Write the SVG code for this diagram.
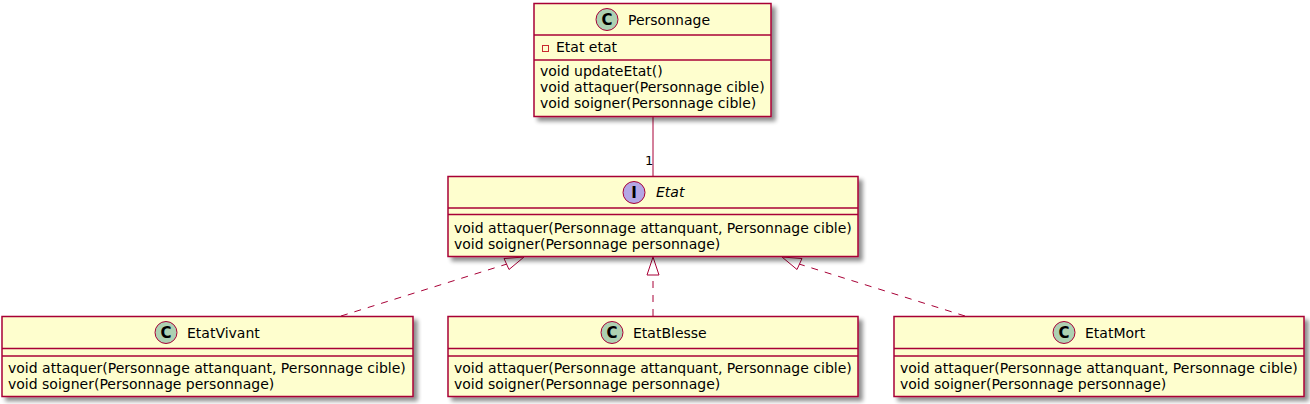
<svg xmlns="http://www.w3.org/2000/svg" width="1310" height="404" viewBox="0 0 1310 404">
<defs>
<filter id="sh" x="-10%" y="-10%" width="130%" height="140%">
<feGaussianBlur in="SourceAlpha" stdDeviation="2"/>
<feOffset dx="4" dy="4" result="b"/>
<feComponentTransfer><feFuncA type="linear" slope="0.45"/></feComponentTransfer>
<feMerge><feMergeNode/><feMergeNode in="SourceGraphic"/></feMerge>
</filter>
</defs>
<style>
text{font-family:"DejaVu Sans","Liberation Sans",sans-serif;fill:#000}
.box{fill:#FEFECE;stroke:#A80036;stroke-width:1.5}
.sep{stroke:#A80036;stroke-width:1.5}
.name{font-size:14px}
.mem{font-size:14px}
.cc{fill:#ADD1B2;stroke:#A80036;stroke-width:1}
.ci{fill:#B4A7E5;stroke:#A80036;stroke-width:1}
.glyph{font-size:15px;font-weight:bold;text-anchor:middle}
.ln{fill:none;stroke:#A80036;stroke-width:1}
.dash{stroke-dasharray:7,7}
.tri{fill:#FFFFFF;stroke:#A80036;stroke-width:1}
</style>
<g id="connectors">
<line class="ln" x1="653" y1="117" x2="653" y2="176"/>
<text x="645" y="165" style="font-size:13px">1</text>
<line class="ln dash" x1="341" y1="316" x2="507" y2="264"/>
<polygon class="tri" points="524,257 504,258.5 509,269.5"/>
<line class="ln dash" x1="653" y1="316" x2="653" y2="275"/>
<polygon class="tri" points="653,257 647,275 659,275"/>
<line class="ln dash" x1="965" y1="316" x2="799" y2="264"/>
<polygon class="tri" points="782,257 802,258.5 797,269.5"/>
</g>
<g id="Personnage">
<rect class="box" x="534" y="3.5" width="237" height="113" filter="url(#sh)"/>
<line class="sep" x1="534" y1="35" x2="771" y2="35"/>
<line class="sep" x1="534" y1="60" x2="771" y2="60"/>
<circle class="cc" cx="607" cy="19.5" r="11"/>
<text class="glyph" x="607" y="25">C</text>
<text class="name" x="628" y="25">Personnage</text>
<rect x="542.5" y="45.5" width="6" height="6" fill="none" stroke="#C82930" stroke-width="1"/>
<text class="mem" x="556" y="52">Etat etat</text>
<text class="mem" x="540" y="76">void updateEtat()</text>
<text class="mem" x="540" y="92">void attaquer(Personnage cible)</text>
<text class="mem" x="540" y="108">void soigner(Personnage cible)</text>
</g>
<g id="Etat">
<rect class="box" x="448" y="176.5" width="410" height="80" filter="url(#sh)"/>
<line class="sep" x1="448" y1="208" x2="858" y2="208"/>
<line class="sep" x1="448" y1="214.5" x2="858" y2="214.5"/>
<circle class="ci" cx="634" cy="192.5" r="11"/>
<text class="glyph" x="634" y="198">I</text>
<text class="name" x="656" y="197" font-style="italic">Etat</text>
<text class="mem" x="454" y="232.5">void attaquer(Personnage attanquant, Personnage cible)</text>
<text class="mem" x="454" y="248.5">void soigner(Personnage personnage)</text>
</g>
<g id="EtatVivant">
<rect class="box" x="2" y="316.5" width="411" height="80" filter="url(#sh)"/>
<line class="sep" x1="2" y1="348.5" x2="413" y2="348.5"/>
<line class="sep" x1="2" y1="356" x2="413" y2="356"/>
<circle class="cc" cx="166" cy="332.5" r="11"/>
<text class="glyph" x="166" y="338">C</text>
<text class="name" x="187" y="338">EtatVivant</text>
<text class="mem" x="8" y="373">void attaquer(Personnage attanquant, Personnage cible)</text>
<text class="mem" x="8" y="389">void soigner(Personnage personnage)</text>
</g>
<g id="EtatBlesse">
<rect class="box" x="448" y="316.5" width="410" height="80" filter="url(#sh)"/>
<line class="sep" x1="448" y1="348.5" x2="858" y2="348.5"/>
<line class="sep" x1="448" y1="356" x2="858" y2="356"/>
<circle class="cc" cx="612" cy="332.5" r="11"/>
<text class="glyph" x="612" y="338">C</text>
<text class="name" x="633" y="338">EtatBlesse</text>
<text class="mem" x="454" y="373">void attaquer(Personnage attanquant, Personnage cible)</text>
<text class="mem" x="454" y="389">void soigner(Personnage personnage)</text>
</g>
<g id="EtatMort">
<rect class="box" x="894" y="316.5" width="410" height="80" filter="url(#sh)"/>
<line class="sep" x1="894" y1="348.5" x2="1304" y2="348.5"/>
<line class="sep" x1="894" y1="356" x2="1304" y2="356"/>
<circle class="cc" cx="1064" cy="332.5" r="11"/>
<text class="glyph" x="1064" y="338">C</text>
<text class="name" x="1085" y="338">EtatMort</text>
<text class="mem" x="900" y="373">void attaquer(Personnage attanquant, Personnage cible)</text>
<text class="mem" x="900" y="389">void soigner(Personnage personnage)</text>
</g>
</svg>
